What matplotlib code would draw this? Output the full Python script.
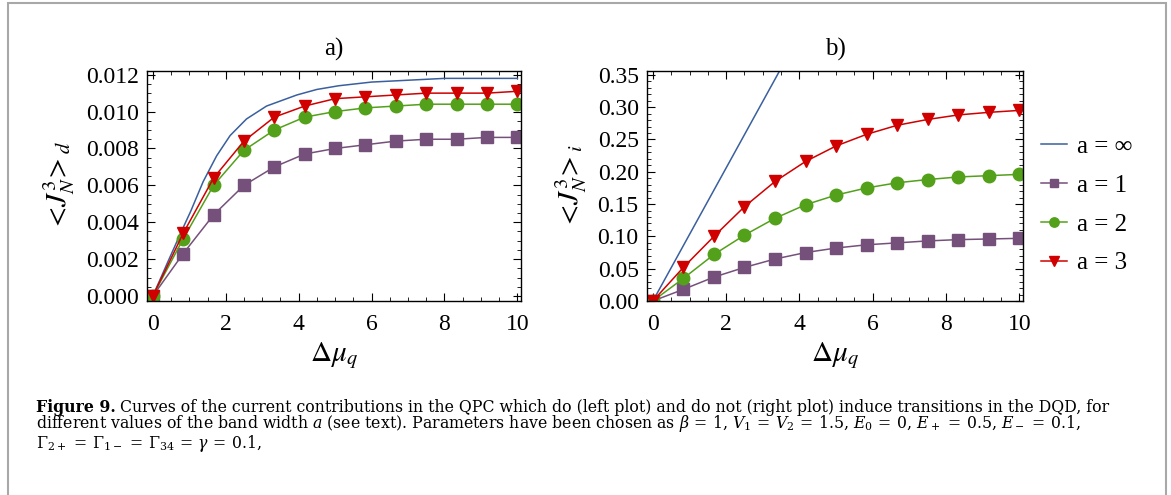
import numpy as np
import matplotlib
matplotlib.use('Agg')
import matplotlib.pyplot as plt
from matplotlib.ticker import MultipleLocator, FormatStrFormatter
from matplotlib.patches import Rectangle

plt.rcParams['font.family'] = 'Liberation Serif'
plt.rcParams['mathtext.fontset'] = 'stix'

# x positions of the markers (same for every series)
mu = [0, 0.833, 1.667, 2.5, 3.333, 4.167, 5.0, 5.833, 6.667, 7.5, 8.333, 9.167, 10.0]

# panel a) <J_N^3>_d
a_inf_x = [0, 0.4, 0.83, 1.04, 1.38, 1.75, 2.12, 2.57, 3.12, 3.95, 4.5, 5.1, 6.0, 7.0, 8.0, 9.0, 10.0]
a_inf_y = [0, 0.0018, 0.0037, 0.0046, 0.0062, 0.0076, 0.0087, 0.0096, 0.0103, 0.0109,
           0.0112, 0.0114, 0.0116, 0.0117, 0.0118, 0.0118, 0.0118]
a1_d = [0, 0.0023, 0.0044, 0.0060, 0.0070, 0.0077, 0.0080, 0.0082, 0.0084, 0.0085, 0.0085, 0.0086, 0.0086]
a2_d = [0, 0.0031, 0.0060, 0.0079, 0.0090, 0.0097, 0.0100, 0.0102, 0.0103, 0.0104, 0.0104, 0.0104, 0.0104]
a3_d = [0, 0.0034, 0.0064, 0.0084, 0.0097, 0.0103, 0.0107, 0.0108, 0.0109, 0.0110, 0.0110, 0.0110, 0.0111]

# panel b) <J_N^3>_i
b_inf_x = [0, 10]
b_inf_y = [0, 1.03]
a1_i = [0, 0.018, 0.037, 0.052, 0.065, 0.075, 0.082, 0.087, 0.090, 0.093, 0.095, 0.096, 0.097]
a2_i = [0, 0.035, 0.072, 0.102, 0.128, 0.149, 0.164, 0.175, 0.183, 0.188, 0.192, 0.194, 0.196]
a3_i = [0, 0.052, 0.100, 0.146, 0.185, 0.216, 0.240, 0.258, 0.272, 0.281, 0.288, 0.292, 0.295]

c_blue = '#3A5F9E'
c_purple = '#75507B'
c_green = '#53A01A'
c_red = '#D00000'

fig = plt.figure(figsize=(11.71, 4.95), dpi=100)

# grey frame around the figure
fig.patches.append(Rectangle((8 / 1171, -0.05), 1158 / 1171, 1.0 - 3 / 495 + 0.05,
                             transform=fig.transFigure, fill=False,
                             edgecolor='#a8a8a8', lw=1.5))

ax1 = fig.add_axes([147 / 1171, 1 - 301 / 495, 374 / 1171, 230 / 495])
ax2 = fig.add_axes([647 / 1171, 1 - 301 / 495, 376 / 1171, 230 / 495])


def style(ax):
    ax.tick_params(which='both', direction='in', top=True, right=True, labelsize=17)
    ax.tick_params(which='major', length=6, width=0.8)
    ax.tick_params(which='minor', length=3, width=0.6)
    ax.tick_params(axis='x', which='major', pad=9)
    ax.tick_params(axis='y', which='major', pad=6)
    ax.xaxis.set_major_locator(MultipleLocator(2))
    ax.xaxis.set_minor_locator(MultipleLocator(0.5))
    ax.set_xlim(-0.16, 10.1)
    for s in ax.spines.values():
        s.set_linewidth(1.0)
    ax.set_xlabel(r'$\Delta\mu_q$', fontsize=21, labelpad=4)


kw = dict(lw=1.1, markersize=9)

ax1.plot(a_inf_x, a_inf_y, color=c_blue, lw=1.1)
ax1.plot(mu, a1_d, color=c_purple, marker='s', markersize=8.5, lw=1.1)
ax1.plot(mu, a2_d, color=c_green, marker='o', **kw)
ax1.plot(mu, a3_d, color=c_red, marker='v', **kw)
style(ax1)
ax1.set_ylim(-0.00027, 0.0122)
ax1.yaxis.set_major_locator(MultipleLocator(0.002))
ax1.yaxis.set_minor_locator(MultipleLocator(0.0005))
ax1.yaxis.set_major_formatter(FormatStrFormatter('%.3f'))
ax1.set_ylabel(r'$<\!J_N^3\!>_d$', fontsize=21, labelpad=6)
ax1.set_title('a)', fontsize=18, pad=11)

l0, = ax2.plot(b_inf_x, b_inf_y, color=c_blue, lw=1.1)
l1, = ax2.plot(mu, a1_i, color=c_purple, marker='s', markersize=8.5, lw=1.1)
l2, = ax2.plot(mu, a2_i, color=c_green, marker='o', **kw)
l3, = ax2.plot(mu, a3_i, color=c_red, marker='v', **kw)
style(ax2)
ax2.set_ylim(0, 0.356)
ax2.yaxis.set_major_locator(MultipleLocator(0.05))
ax2.yaxis.set_minor_locator(MultipleLocator(0.01))
ax2.yaxis.set_major_formatter(FormatStrFormatter('%.2f'))
ax2.set_ylabel(r'$<\!J_N^3\!>_i$', fontsize=21, labelpad=6)
ax2.set_title('b)', fontsize=18, pad=11)

fig.legend([l0, l1, l2, l3], ['a = ∞', 'a = 1', 'a = 2', 'a = 3'],
           loc='center left', bbox_to_anchor=(1018 / 1171, 1 - 205 / 495),
           frameon=False, fontsize=18, handlelength=1.05, handletextpad=0.4,
           labelspacing=0.65, markerscale=0.75)

cap1 = ('Curves of the current contributions in the QPC which do (left plot) and do not '
        '(right plot) induce transitions in the DQD, for')
cap2 = (r'different values of the band width $a$ (see text). Parameters have been chosen as '
        r'$\beta\,=\,1$, $V_1\,=\,V_2\,=\,1.5$, $E_0\,=\,0$, $E_+\,=\,0.5$, $E_-\,=\,0.1$,')
cap3 = r'$\Gamma_{2+}\,=\,\Gamma_{1-}\,=\,\Gamma_{34}\,=\,\gamma\,=\,0.1$,'

cf = dict(fontsize=11.3, family='DejaVu Serif', va='center', math_fontfamily='dejavuserif')
t = fig.text(36 / 1171, 1 - 407 / 495, 'Figure 9.', fontweight='bold', **cf)
fig.canvas.draw()
bb = t.get_window_extent()
fig.text((bb.x1 + 4) / 1171, 1 - 407 / 495, cap1, **cf)
fig.text(36 / 1171, 1 - 424 / 495, cap2, **cf)
fig.text(36 / 1171, 1 - 444 / 495, cap3, **cf)

fig.savefig('out.png', dpi=100)
